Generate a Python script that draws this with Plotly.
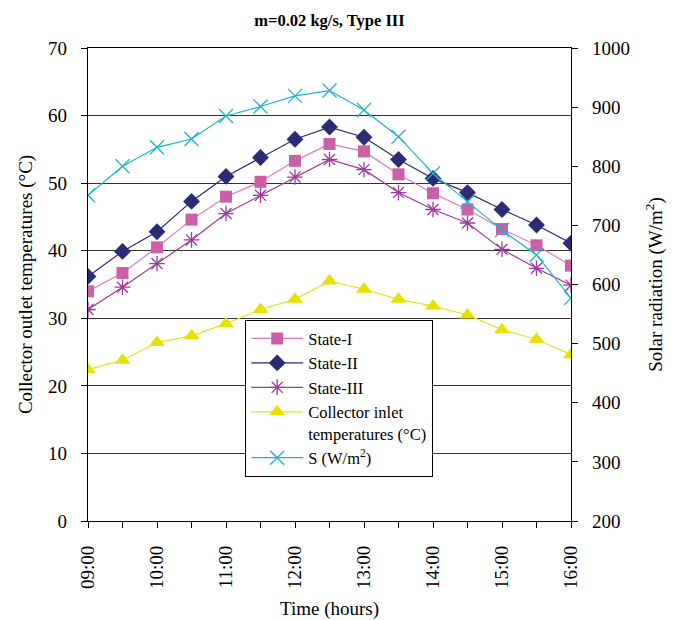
import plotly.graph_objects as go

times = ["09:00", "09:30", "10:00", "10:30", "11:00", "11:30", "12:00", "12:30",
         "13:00", "13:30", "14:00", "14:30", "15:00", "15:30", "16:00"]
state_1 = [34.0, 36.7, 40.5, 44.6, 48.0, 50.2, 53.3, 55.8, 54.7, 51.3, 48.5, 46.1, 43.2, 40.8, 37.8]
state_2 = [36.2, 39.9, 42.8, 47.3, 51.0, 53.8, 56.5, 58.3, 56.8, 53.5, 50.7, 48.6, 46.1, 43.8, 41.1]
state_3 = [31.3, 34.6, 38.1, 41.6, 45.5, 48.2, 50.9, 53.5, 52.0, 48.6, 46.1, 44.1, 40.2, 37.4, 34.9]
inlet = [22.4, 23.8, 26.4, 27.4, 29.2, 31.3, 32.8, 35.5, 34.3, 32.8, 31.8, 30.5, 28.3, 26.9, 24.6]
solar = [751, 800, 832, 846, 885, 901, 919, 928, 895, 850, 788, 740, 692, 650, 577]

x = [int(t[:2]) + int(t[3:]) / 60 for t in times]
hour_vals = [v for v, t in zip(x, times) if t.endswith(":00")]
hour_text = [t for t in times if t.endswith(":00")]

FONT = "Liberation Serif"

fig = go.Figure()
fig.add_trace(go.Scatter(x=x, y=state_1, name="State-I", mode="lines+markers",
                         line=dict(color="#DE7BBE", width=1.2),
                         marker=dict(symbol="square", size=12, color="#CC5FA5")))
fig.add_trace(go.Scatter(x=x, y=state_2, name="State-II", mode="lines+markers",
                         line=dict(color="#2E2B76", width=1.2),
                         marker=dict(symbol="diamond", size=13, color="#2E2B76")))
fig.add_trace(go.Scatter(x=x, y=state_3, name="State-III", mode="lines+markers",
                         line=dict(color="#9B3C9E", width=1.2),
                         marker=dict(symbol="asterisk-open", size=13,
                                     line=dict(color="#8E2A8E", width=1.3))))
fig.add_trace(go.Scatter(x=x, y=inlet, name="Collector inlet<br>temperatures (°C)",
                         mode="lines+markers",
                         line=dict(color="#E8E21A", width=1.2),
                         marker=dict(symbol="triangle-up", size=14, color="#E8E000")))
fig.add_trace(go.Scatter(x=x, y=solar, name="S (W/m<sup>2</sup>)", mode="lines+markers",
                         yaxis="y2",
                         line=dict(color="#1DB3CF", width=1.2),
                         marker=dict(symbol="x-thin-open", size=14,
                                     line=dict(color="#1DB3CF", width=1.3))))

tickfont = dict(family=FONT, size=19, color="black")

fig.update_layout(
    width=682, height=620,
    margin=dict(l=88, r=111, t=48, b=99),
    paper_bgcolor="white", plot_bgcolor="white",
    font=dict(family=FONT, color="black"),
    title=dict(text="<b>m=0.02 kg/s, Type III</b>", x=(88 + 571) / 2 / 682, xanchor="center",
               y=1 - 20 / 620, yanchor="middle", yref="container",
               font=dict(family=FONT, size=16.5, color="black")),
    showlegend=True,
    legend=dict(x=(245 - 88) / 483, y=(521 - 320) / 473, xanchor="left", yanchor="top",
                bgcolor="white", bordercolor="black", borderwidth=1.2,
                font=dict(family=FONT, size=16.5, color="black"),
                valign="top", tracegroupgap=0, itemwidth=52),
    xaxis=dict(range=[9, 16], tickmode="array", tickvals=hour_vals, ticktext=hour_text,
               tickangle=-90, ticks="outside", ticklen=6, tickcolor="black",
               minor=dict(tickmode="array", tickvals=x, ticks="outside", ticklen=6,
                          tickcolor="black", showgrid=False),
               showline=True, linecolor="black", linewidth=1.2, mirror=True,
               showgrid=False, zeroline=False, tickfont=tickfont,
               ticklabelstandoff=10, automargin=False,
               title=dict(text="Time (hours)", font=dict(family=FONT, size=19), standoff=14)),
    xaxis2=dict(range=[9, 16], overlaying="x", side="bottom", anchor="y",
                tickmode="array", tickvals=x, ticks="inside", ticklen=6,
                tickcolor="black", showticklabels=False, showgrid=False,
                zeroline=False, showline=False),
    yaxis=dict(range=[0, 70], dtick=10, ticks="outside", ticklen=6, tickcolor="black",
               showline=True, linecolor="black", linewidth=1.2,
               showgrid=True, gridcolor="#333333", gridwidth=1, zeroline=False,
               tickfont=tickfont, ticklabelstandoff=10, automargin=False,
               title=dict(text="Collector outlet temperatures (°C)",
                          font=dict(family=FONT, size=19), standoff=10)),
    yaxis2=dict(range=[200, 1000], dtick=100, overlaying="y", side="right", anchor="x",
                ticks="outside", ticklen=6, tickcolor="black",
                showline=True, linecolor="black", linewidth=1.2,
                showgrid=False, zeroline=False, tickfont=tickfont,
                ticklabelstandoff=10, automargin=False,
                title=dict(text="Solar radiation (W/m<sup>2</sup>)",
                           font=dict(family=FONT, size=19), standoff=19)),
    yaxis3=dict(range=[0, 70], dtick=10, overlaying="y", side="left", anchor="x",
                ticks="inside", ticklen=6, tickcolor="black", showticklabels=False,
                showgrid=False, zeroline=False, showline=False),
    yaxis4=dict(range=[200, 1000], dtick=50, overlaying="y", side="right", anchor="x",
                ticks="inside", ticklen=6, tickcolor="black", showticklabels=False,
                showgrid=False, zeroline=False, showline=False),
)

fig.write_html("out.html")
